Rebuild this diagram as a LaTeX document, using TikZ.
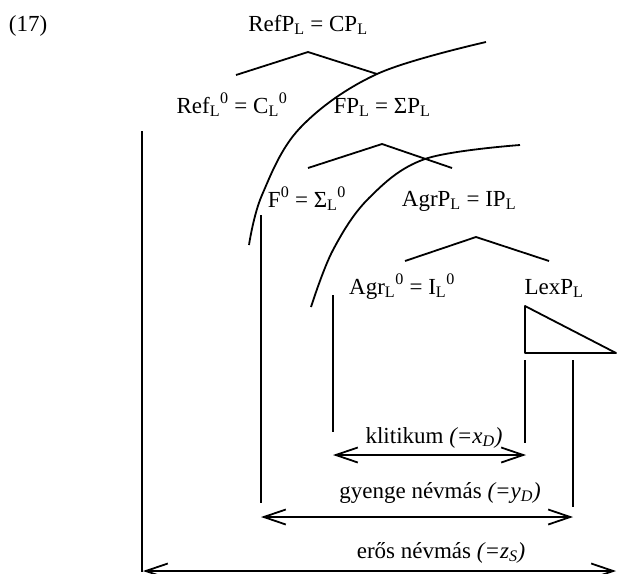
\documentclass[tikz,border=0pt]{standalone}
\usepackage{fontspec}
\setmainfont{Liberation Serif}
\usetikzlibrary{arrows.meta}

\begin{document}
\begin{tikzpicture}[x=1pt,y=-1pt,
  lbl/.style={anchor=base,inner sep=0pt,font=\fontsize{23}{27}\selectfont},
  branch/.style={line width=1.8pt,line join=round},
  track/.style={line width=2pt},
  bracket/.style={line width=1.8pt},
  span/.style={line width=1.8pt,{Straight Barb[length=22pt,width=15pt,line width=1.8pt]}-{Straight Barb[length=22pt,width=15pt,line width=1.8pt]}}]
\useasboundingbox (0,0) rectangle (617,573);

% labels
\node[lbl] (num)  at (28,31)  {(17)};
\node[lbl] (refp) at (308,31) {RefP\textsubscript{L} = CP\textsubscript{L}};
\node[lbl] (refh) at (232,113) {Ref\textsubscript{L}\textsuperscript{0} = C\textsubscript{L}\textsuperscript{0}};
\node[lbl] (fp)   at (382,113) {FP\textsubscript{L} = ΣP\textsubscript{L}};
\node[lbl] (fh)   at (307,207) {F\textsuperscript{0} = Σ\textsubscript{L}\textsuperscript{0}};
\node[lbl] (agrp) at (459,206) {AgrP\textsubscript{L} = IP\textsubscript{L}};
\node[lbl] (agrh) at (402,294) {Agr\textsubscript{L}\textsuperscript{0} = I\textsubscript{L}\textsuperscript{0}};
\node[lbl] (lexp) at (554,294) {LexP\textsubscript{L}};
\node[lbl] (kl)   at (434,443) {klitikum \textit{(=x\textsubscript{D})}};
\node[lbl] (gy)   at (440,498) {gyenge névmás \textit{(=y\textsubscript{D})}};
\node[lbl] (er)   at (441,558) {erős névmás \textit{(=z\textsubscript{S})}};

% tree branches
\coordinate (t1l) at (236,75);  \coordinate (t1a) at (308,52);  \coordinate (t1r) at (377,74);
\coordinate (t2l) at (308,168); \coordinate (t2a) at (382,144); \coordinate (t2r) at (452,168);
\coordinate (t3l) at (405,261); \coordinate (t3a) at (476,237); \coordinate (t3r) at (549,261);
\draw[branch] (t1l) -- (t1a) -- (t1r);
\draw[branch] (t2l) -- (t2a) -- (t2r);
\draw[branch] (t3l) -- (t3a) -- (t3r);

% LexP triangle
\coordinate (lx1) at (525,306); \coordinate (lx2) at (525,353); \coordinate (lx3) at (616,353);
\draw[branch] (lx1) -- (lx2) -- (lx3) -- cycle;

% movement arcs
\draw[branch] plot[smooth,tension=0.6] coordinates {(486,42) (377,74) (300,128) (262,195) (249,245)};
\draw[branch] plot[smooth,tension=0.6] coordinates {(520,145) (425,159) (369,198) (333,250) (311,307)};

% vertical brackets
\coordinate (v0t) at (142,131); \coordinate (v0b) at (142,572);
\coordinate (v1t) at (261,215); \coordinate (v1b) at (261,503);
\coordinate (v2t) at (333,295); \coordinate (v2b) at (333,432);
\coordinate (v3t) at (525,360); \coordinate (v3b) at (525,443);
\coordinate (v4t) at (573,360); \coordinate (v4b) at (573,507);
\draw[track] (v0t) -- (v0b);
\draw[bracket] (v1t) -- (v1b);
\draw[bracket] (v2t) -- (v2b);
\draw[bracket] (v3t) -- (v3b);
\draw[bracket] (v4t) -- (v4b);

% extent arrows
\coordinate (a1l) at (333,455); \coordinate (a1r) at (526,455);
\coordinate (a2l) at (261,517); \coordinate (a2r) at (573,517);
\coordinate (a3l) at (143,571); \coordinate (a3r) at (616,571);
\draw[span] (a1l) -- (a1r);
\draw[span] (a2l) -- (a2r);
\draw[span] (a3l) -- (a3r);
\end{tikzpicture}
\end{document}
